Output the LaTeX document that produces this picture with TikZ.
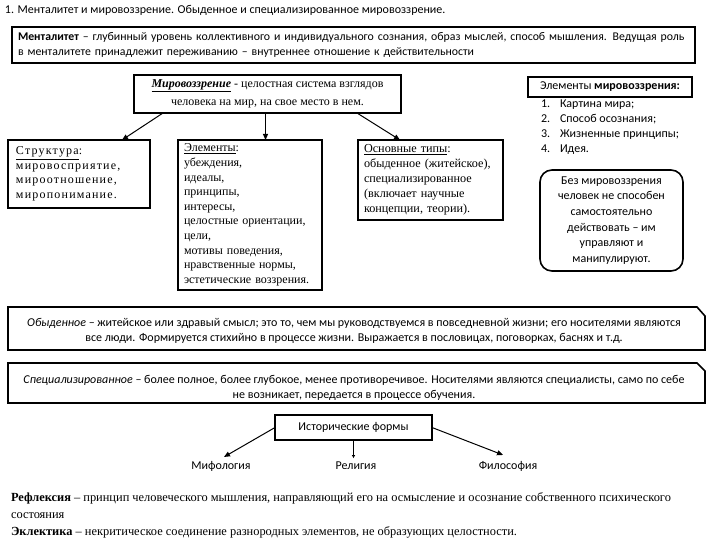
\documentclass[tikz,border=0pt]{standalone}
\usepackage{fontspec}
\setmainfont{Liberation Serif}
\setsansfont{Carlito}
\newfontfamily\wideserif[LetterSpace=10]{Liberation Serif}
\usetikzlibrary{positioning,arrows.meta}

\begin{document}
\begin{tikzpicture}[x=1pt, y=-1pt,
  every node/.style={inner sep=0pt, outer sep=0pt},
  sanstxt/.style={font=\sffamily\fontsize{12}{15}\selectfont},
  seriftxt/.style={font=\rmfamily\fontsize{12}{13.5}\selectfont},
  frame/.style={draw, line width=1.6pt, anchor=north west},
  arr/.style={-{Triangle[length=6pt,width=5pt]}, line width=1pt}]
  \useasboundingbox (0,0) rectangle (720,540);

  \node[sanstxt, anchor=west] (title) at (5,10) {1. Менталитет и мировоззрение. Обыденное и специализированное мировоззрение.};

  \node[frame, minimum height=36, text width=671, inner xsep=6, align=left, font=\sffamily\fontsize{11.8}{15}\selectfont] (ment) at (12,27)
    {\textbf{Менталитет} – глубинный уровень коллективного и индивидуального сознания, образ мыслей, способ мышления. Ведущая роль\\
     в менталитете принадлежит переживанию – внутреннее отношение к действительности};

  % mirovozzrenie and its parts
  \node[frame, minimum width=267, minimum height=38, align=center, font=\rmfamily\fontsize{12}{18}\selectfont] (wv) at (134,75)
    {\textbf{\textit{\underline{Мировоззрение}}} - целостная система взглядов\\человека на мир, на свое место в нем.};
  \node[frame, minimum height=68, text width=126, inner xsep=8, align=left, font=\wideserif\fontsize{12}{14.5}\selectfont] (struct) at (8,140)
    {\underline{Структура}:\\мировосприятие,\\мироотношение,\\миропонимание.};
  \node[frame, minimum height=150, text width=132, inner xsep=6, align=left, font=\rmfamily\fontsize{12}{14.6}\selectfont] (elem) at (178,140)
    {\underline{Элементы}:\\убеждения,\\идеалы,\\принципы,\\интересы,\\целостные ориентации,\\цели,\\мотивы поведения,\\нравственные нормы,\\эстетические воззрения.};
  \node[frame, minimum height=80, text width=133, inner xsep=6, align=left, font=\rmfamily\fontsize{12.2}{15}\selectfont] (types) at (358,140)
    {\underline{Основные типы}:\\обыденное (житейское),\\специализированное\\(включает научные\\концепции, теории).};

  \draw[arr] ([xshift=29pt]wv.south west) -- ([xshift=-28pt]struct.north east);
  \draw[arr] ([xshift=-2pt]wv.south) -- ([xshift=-2pt]wv.south |- elem.north);
  \draw[arr] ([xshift=-44pt]wv.south east) -- ([xshift=42pt]types.north west);

  % right column
  \node[frame, sanstxt, minimum width=164, minimum height=20] (elhead) at (528,77) {Элементы \textbf{мировоззрения:}};
  \node[sanstxt, anchor=north west, align=left] (ellist) at (541,100)
    {\makebox[19pt][l]{1.}Картина мира;\\\makebox[19pt][l]{2.}Способ осознания;\\\makebox[19pt][l]{3.}Жизненные принципы;\\\makebox[19pt][l]{4.}Идея.};
  \node[frame, rounded corners=12pt, minimum width=143, minimum height=101, align=center, font=\sffamily\fontsize{12}{15.6}\selectfont] (note) at (540,170)
    {Без мировоззрения\\человек не способен\\самостоятельно\\действовать – им\\управляют и\\манипулируют.};

  % two kinds
  \draw[line width=1.6pt] (8,307) -- (697,307) -- (705,316) -- (705,350) -- (8,350) -- cycle;
  \node[sanstxt, align=center] (ordtxt) at (354,330.5)
    {\textit{Обыденное} – житейское или здравый смысл; это то, чем мы руководствуемся в повседневной жизни; его носителями являются\\
     все люди. Формируется стихийно в процессе жизни. Выражается в пословицах, поговорках, баснях и т.д.};
  \draw[line width=1.6pt] (8,363) -- (697,363) -- (705,371) -- (705,403) -- (8,403) -- cycle;
  \node[sanstxt, align=center] (spectxt) at (354,387.5)
    {\textit{Специализированное} – более полное, более глубокое, менее противоречивое. Носителями являются специалисты, само по себе\\
     не возникает, передается в процессе обучения.};

  % historical forms
  \node[frame, sanstxt, minimum width=157, minimum height=25] (hist) at (275,415) {Исторические формы};
  \node[sanstxt] (myth) at (221,466) {Мифология};
  \node[sanstxt] (rel) at (356,466) {Религия};
  \node[sanstxt] (phil) at (508,466) {Философия};
  \draw[arr] (hist.west) -- ([xshift=3pt,yshift=4pt]myth.north);
  \draw[-{Triangle[length=3pt,width=3pt]}, line width=1pt] (hist.south) -- ([yshift=4pt]hist.south |- rel.north);
  \draw[arr] (hist.east) -- ([xshift=-5pt,yshift=6pt]phil.north);

  \node[anchor=north west, align=left, font=\rmfamily\fontsize{12.4}{16.8}\selectfont] (defs) at (11,493)
    {\textbf{Рефлексия} – принцип человеческого мышления, направляющий его на осмысление и осознание собственного психического\\
     состояния\\
     \textbf{Эклектика} – некритическое соединение разнородных элементов, не образующих целостности.};
\end{tikzpicture}
\end{document}
